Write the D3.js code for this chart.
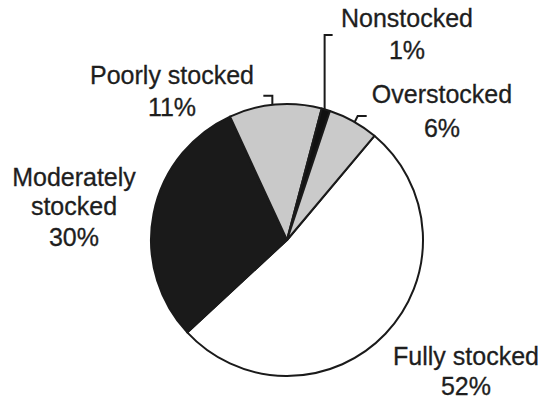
<!DOCTYPE html>
<html><head><meta charset="utf-8">
<script src="https://cdn.jsdelivr.net/npm/d3@7"></script>
<style>body{margin:0;background:#fff}svg{display:block}</style>
</head><body>
<script>
const categories = ["Fully stocked","Moderately stocked","Poorly stocked","Nonstocked","Overstocked"];
const values = [52, 30, 11, 1, 6];
const labels = ["52%","30%","11%","1%","6%"];
const fills = ["#ffffff","#1a1a1a","#c9c9c9","#111111","#cacaca"];

const W = 545, H = 400, cx = 287, cy = 240, R = 136;
const svg = d3.select("body").append("svg").attr("width", W).attr("height", H);

const pie = d3.pie().sort(null).value(d => d)
  .startAngle(40 * Math.PI / 180).endAngle(400 * Math.PI / 180);
const arcs = pie(values);
const arc = d3.arc().innerRadius(0).outerRadius(R);

const g = svg.append("g").attr("transform", `translate(${cx},${cy})`);
g.selectAll("path").data(arcs).join("path")
  .attr("d", arc)
  .attr("fill", (d, i) => fills[i])
  .attr("stroke", "#1a1a1a").attr("stroke-width", 2).attr("stroke-linejoin", "round");

// Leader lines (attached to slice arcs)
const pt = (ang, r) => [Math.sin(ang) * r, -Math.cos(ang) * r];
const leaders = [
  {i: 2, frac: 0.47, path: (p) => [[p[0], p[1]], [p[0], p[1] - 9], [p[0] - 9, p[1] - 9]]},
  {i: 3, frac: 0.35, path: (p) => [[p[0], p[1]], [p[0], 35 - cy], [p[0] + 8, 35 - cy]]},
  {i: 4, frac: 0.53, path: (p) => [[p[0], p[1]], [p[0] + 3, p[1] - 6], [p[0] + 12, p[1] - 6]]}
];
leaders.forEach(l => {
  const a = arcs[l.i];
  const ang = a.startAngle + (a.endAngle - a.startAngle) * l.frac;
  const p = pt(ang, R);
  g.append("path").attr("d", d3.line()(l.path(p)))
    .attr("fill", "none").attr("stroke", "#1a1a1a").attr("stroke-width", 2);
});

// Text labels
const textPos = [
  {lines: ["Fully stocked", labels[0]], x: 466, y: [365, 395]},
  {lines: ["Moderately", "stocked", labels[1]], x: 74, y: [186, 215, 246]},
  {lines: ["Poorly stocked", labels[2]], x: 172, y: [84, 116]},
  {lines: ["Nonstocked", labels[3]], x: 407, y: [27, 59]},
  {lines: ["Overstocked", labels[4]], x: 442, y: [103, 137]}
];
textPos.forEach(t => {
  const tx = svg.append("text").attr("text-anchor", "middle")
    .attr("font-family", "'Liberation Sans', Arial, Helvetica, sans-serif")
    .attr("font-size", 25).attr("fill", "#1e1e1e")
    .attr("stroke", "#1e1e1e").attr("stroke-width", 0.3);
  t.lines.forEach((s, k) => tx.append("tspan").attr("x", t.x).attr("y", t.y[k]).text(s));
});
</script>
</body></html>
